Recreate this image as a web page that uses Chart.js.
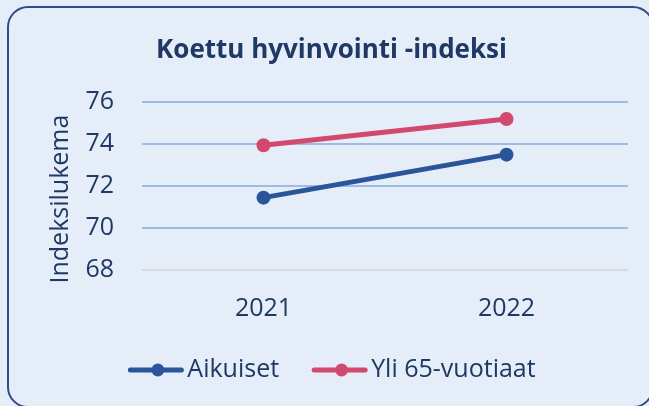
<!DOCTYPE html>
<html>
<head>
<meta charset="utf-8">
<script src="https://cdn.jsdelivr.net/npm/chart.js@4"></script>
<style>
html,body{margin:0;padding:0;background:#E5EDF8;}
#wrap{width:649px;height:406px;position:relative;}
</style>
</head>
<body>
<div id="wrap"><canvas id="c" width="649" height="406"></canvas></div>
<script>
const categories = ['2021', '2022'];
const aikuiset = [71.45, 73.5];
const yli65 = [73.95, 75.2];
const yTicks = [68, 70, 72, 74, 76];
const seriesNames = ['Aikuiset', 'Yli 65-vuotiaat'];
const titleText = 'Koettu hyvinvointi -indeksi';
const yTitle = 'Indeksilukema';

const TEXT = '#1F3864';
const FONT = "'Open Sans', sans-serif";

const bgPlugin = {
  id: 'bg',
  beforeDraw(chart) {
    const ctx = chart.ctx;
    ctx.save();
    ctx.fillStyle = '#E5EDF8';
    ctx.fillRect(0, 0, chart.width, chart.height);
    const x = 8, y = 7, w = 653 - 8, h = 407 - 7, r = 20;
    ctx.beginPath();
    ctx.moveTo(x + r, y);
    ctx.lineTo(x + w - r, y);
    ctx.arcTo(x + w, y, x + w, y + r, r);
    ctx.lineTo(x + w, y + h - r);
    ctx.arcTo(x + w, y + h, x + w - r, y + h, r);
    ctx.lineTo(x + r, y + h);
    ctx.arcTo(x, y + h, x, y + h - r, r);
    ctx.lineTo(x, y + r);
    ctx.arcTo(x, y, x + r, y, r);
    ctx.closePath();
    ctx.lineWidth = 2;
    ctx.strokeStyle = '#2F4B8A';
    ctx.stroke();
    ctx.restore();
  }
};

const legendPlugin = {
  id: 'customLegend',
  afterDraw(chart) {
    const ctx = chart.ctx;
    ctx.save();
    ctx.font = '25px ' + FONT;
    const sampleW = 55, gapText = 4, gapItems = 33;
    const ds = chart.data.datasets;
    const widths = ds.map(d => ctx.measureText(d.label).width);
    let total = 0;
    ds.forEach((d, i) => { total += sampleW + gapText + widths[i]; });
    total += gapItems * (ds.length - 1);
    let x = 332 - total / 2;
    const yc = 370;
    ds.forEach((d, i) => {
      ctx.strokeStyle = d.borderColor;
      ctx.lineWidth = 5;
      ctx.lineCap = 'round';
      ctx.beginPath();
      ctx.moveTo(x + 2, yc);
      ctx.lineTo(x + sampleW - 2, yc);
      ctx.stroke();
      ctx.fillStyle = d.borderColor;
      ctx.beginPath();
      ctx.arc(x + sampleW / 2 + 2, yc, 6.5, 0, Math.PI * 2);
      ctx.fill();
      ctx.fillStyle = TEXT;
      ctx.textBaseline = 'middle';
      ctx.textAlign = 'left';
      ctx.fillText(d.label, x + sampleW + gapText, yc);
      x += sampleW + gapText + widths[i] + gapItems;
    });
    ctx.restore();
  }
};

new Chart(document.getElementById('c'), {
  type: 'line',
  data: {
    labels: categories,
    datasets: [
      {
        label: seriesNames[0], data: aikuiset,
        borderColor: '#2B559B', backgroundColor: '#2B559B',
        borderWidth: 5, pointRadius: 7, pointHoverRadius: 7,
        pointBackgroundColor: '#2B559B', pointBorderWidth: 0
      },
      {
        label: seriesNames[1], data: yli65,
        borderColor: '#D2496F', backgroundColor: '#D2496F',
        borderWidth: 5, pointRadius: 7, pointHoverRadius: 7,
        pointBackgroundColor: '#D2496F', pointBorderWidth: 0
      }
    ]
  },
  options: {
    responsive: false,
    animation: false,
    devicePixelRatio: 1,
    layout: { padding: { left: 35, right: 21, top: 0, bottom: 0 } },
    plugins: {
      legend: { display: false },
      tooltip: { enabled: false },
      title: {
        display: true, text: titleText, color: TEXT,
        font: { family: FONT, size: 26, weight: 'bold' },
        padding: { top: 35, bottom: 36 }
      }
    },
    scales: {
      x: {
        offset: true,
        grid: { display: false, drawTicks: false },
        border: { display: false },
        ticks: { color: TEXT, font: { family: FONT, size: 25 }, padding: 24, maxRotation: 0 },
        afterFit(scale) { scale.height = 406 - 270; }
      },
      y: {
        min: 68, max: 76,
        afterBuildTicks(scale) { scale.ticks = yTicks.map(v => ({ value: v })); },
        grid: {
          drawTicks: false, lineWidth: 2,
          color: ctx => ctx.tick && ctx.tick.value === 68 ? '#D6D9DE' : '#9DBCE3'
        },
        border: { display: false },
        ticks: { color: TEXT, font: { family: FONT, size: 25 }, padding: 28 },
        title: {
          display: true, text: yTitle + '    ', color: TEXT,
          font: { family: FONT, size: 25 },
          padding: { top: 11, bottom: 0 }
        },
        afterFit(scale) { scale.width = 142 - 35; }
      }
    }
  },
  plugins: [bgPlugin, legendPlugin]
});
</script>
</body>
</html>
